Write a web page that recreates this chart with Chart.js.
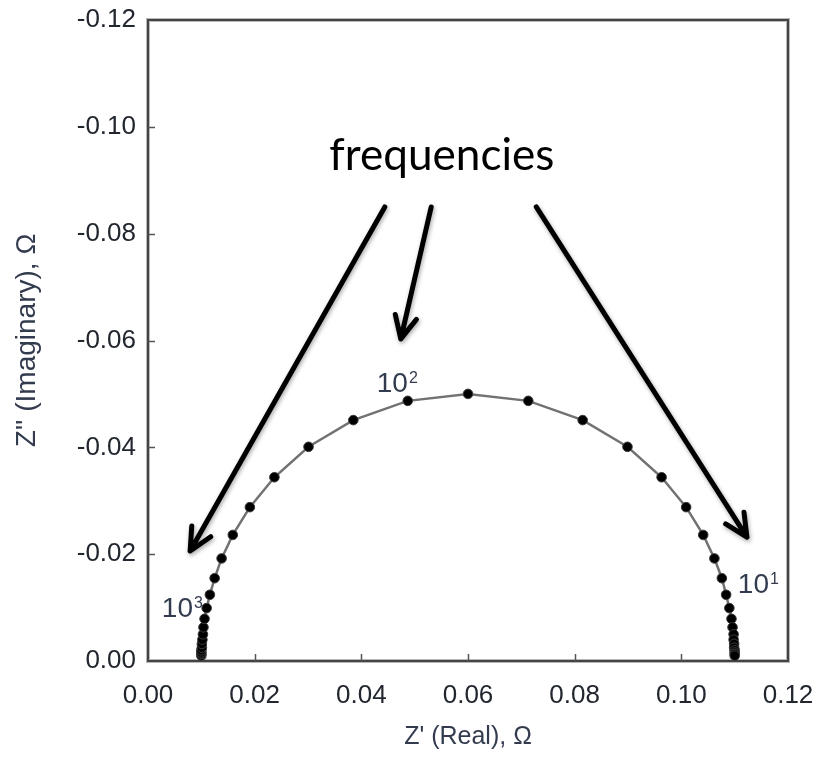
<!DOCTYPE html>
<html>
<head>
<meta charset="utf-8">
<script src="https://cdn.jsdelivr.net/npm/chart.js@4.4.1/dist/chart.umd.min.js"></script>
<style>
  html, body { margin: 0; padding: 0; background: #fff; }
</style>
</head>
<body>
<canvas id="nyquist" width="821" height="761"></canvas>
<script>
// Z' (real) and Z'' (imaginary) in ohms, high frequency (left) to low frequency (right)
const zReal = [
  0.0100, 0.0100, 0.0100, 0.0100, 0.0101, 0.0101, 0.0102, 0.0103, 0.0104, 0.0106,
  0.0110, 0.0116, 0.0125, 0.0138, 0.0159, 0.0191, 0.0237, 0.0301, 0.0385, 0.0487,
  0.0600,
  0.0713, 0.0815, 0.0899, 0.0963, 0.1009, 0.1041, 0.1062, 0.1076, 0.1084, 0.1090,
  0.1094, 0.1096, 0.1098, 0.1098, 0.1099, 0.1099, 0.1100, 0.1100, 0.1100, 0.1100
];
const zImag = [
  -0.0010, -0.0013, -0.0016, -0.0020, -0.0025, -0.0032, -0.0040, -0.0050, -0.0063, -0.0079,
  -0.0099, -0.0124, -0.0155, -0.0192, -0.0236, -0.0288, -0.0344, -0.0401, -0.0451, -0.0487,
  -0.0500,
  -0.0487, -0.0451, -0.0401, -0.0344, -0.0288, -0.0236, -0.0192, -0.0155, -0.0124, -0.0099,
  -0.0079, -0.0063, -0.0050, -0.0040, -0.0032, -0.0025, -0.0020, -0.0016, -0.0013, -0.0010
];

const xTicks = [0, 0.02, 0.04, 0.06, 0.08, 0.10, 0.12];
const yTicks = [-0.12, -0.10, -0.08, -0.06, -0.04, -0.02, 0];

// frequency decade labels (text anchor in data units)
const decadeLabels = [
  { exp: "3", x: 0.0026, y: -0.0082 },
  { exp: "2", x: 0.0429, y: -0.0504 },
  { exp: "1", x: 0.1106, y: -0.0127 }
];

// annotation arrows, [x0, y0, x1, y1] in data units
const arrows = [
  [0.0444, -0.0850, 0.0079, -0.0206],
  [0.0531, -0.0850, 0.0474, -0.0603],
  [0.0728, -0.0850, 0.1123, -0.0232]
];
const noteText = "frequencies";
const notePos = { x: 0.0551, y: -0.0919 };

const labelColor = "#22262f";
const titleColor = "#333b4e";

const noPad = s => { s.paddingTop = 0; s.paddingBottom = 0; s.paddingLeft = 0; s.paddingRight = 0; };

const decor = {
  id: "decor",
  beforeDatasetsDraw(chart) {
    const { ctx, chartArea: a, scales: { x, y } } = chart;
    ctx.save();
    ctx.strokeStyle = "#b8b8b8";
    ctx.lineWidth = 4;
    ctx.strokeRect(a.left, a.top, a.right - a.left, a.bottom - a.top);
    ctx.strokeStyle = "#444";
    ctx.lineWidth = 2;
    ctx.strokeRect(a.left, a.top, a.right - a.left, a.bottom - a.top);

    ctx.lineWidth = 1.5;
    ctx.strokeStyle = "#555";
    ctx.beginPath();
    xTicks.slice(1, -1).forEach(v => {
      const px = Math.round(x.getPixelForValue(v)) + 0.5;
      ctx.moveTo(px, a.bottom);
      ctx.lineTo(px, a.bottom - 7);
    });
    yTicks.slice(1, -1).forEach(v => {
      const py = Math.round(y.getPixelForValue(v)) + 0.5;
      ctx.moveTo(a.left, py);
      ctx.lineTo(a.left + 7, py);
    });
    ctx.stroke();
    ctx.restore();
  },
  afterDatasetsDraw(chart) {
    const { ctx, scales: { x, y } } = chart;
    ctx.save();

    // decade labels 10^n
    decadeLabels.forEach(l => {
      const px = x.getPixelForValue(l.x);
      const py = y.getPixelForValue(l.y);
      ctx.fillStyle = titleColor;
      ctx.textBaseline = "alphabetic";
      ctx.textAlign = "left";
      ctx.font = "28px 'Liberation Sans', Arial, sans-serif";
      ctx.fillText("10", px, py);
      const w = ctx.measureText("10").width;
      ctx.font = "16px 'Liberation Sans', Arial, sans-serif";
      ctx.fillText(l.exp, px + w + 1, py - 9);
    });

    // arrows
    ctx.strokeStyle = "#000";
    ctx.lineWidth = 5;
    ctx.lineCap = "round";
    ctx.lineJoin = "round";
    ctx.shadowColor = "rgba(0,0,0,0.35)";
    ctx.shadowBlur = 4;
    ctx.shadowOffsetX = 1;
    ctx.shadowOffsetY = 2;
    arrows.forEach(([x0, y0, x1, y1]) => {
      const ax = x.getPixelForValue(x0), ay = y.getPixelForValue(y0);
      const bx = x.getPixelForValue(x1), by = y.getPixelForValue(y1);
      const ang = Math.atan2(by - ay, bx - ax);
      const head = 25, spread = 0.45;
      ctx.beginPath();
      ctx.moveTo(ax, ay);
      ctx.lineTo(bx, by);
      ctx.moveTo(bx - head * Math.cos(ang - spread), by - head * Math.sin(ang - spread));
      ctx.lineTo(bx, by);
      ctx.lineTo(bx - head * Math.cos(ang + spread), by - head * Math.sin(ang + spread));
      ctx.stroke();
    });
    ctx.shadowColor = "transparent";

    // note text, fitted to its width in the picture
    ctx.fillStyle = "#000";
    ctx.textAlign = "center";
    ctx.textBaseline = "alphabetic";
    ctx.font = "40px Lato, 'Open Sans', sans-serif";
    const size = 40 * 225 / ctx.measureText(noteText).width;
    ctx.font = size.toFixed(1) + "px Lato, 'Open Sans', sans-serif";
    ctx.fillText(noteText, x.getPixelForValue(notePos.x), y.getPixelForValue(notePos.y));
    ctx.restore();
  }
};

new Chart(document.getElementById("nyquist"), {
  type: "scatter",
  data: {
    datasets: [{
      data: zReal.map((v, i) => ({ x: v, y: zImag[i] })),
      showLine: true,
      borderColor: "#727272",
      borderWidth: 2.5,
      pointRadius: 4.8,
      pointBackgroundColor: "#000",
      pointBorderColor: "#3a3a3a",
      pointBorderWidth: 1,
      clip: false
    }]
  },
  options: {
    responsive: false,
    animation: false,
    devicePixelRatio: 1,
    layout: { padding: { top: 20, right: 33, left: 0, bottom: 0 } },
    plugins: { legend: { display: false }, tooltip: { enabled: false } },
    scales: {
      x: {
        type: "linear",
        min: 0,
        max: 0.12,
        afterBuildTicks: s => { s.ticks = xTicks.map(v => ({ value: v })); },
        afterFit: s => { s.height = 100; noPad(s); },
        grid: { display: false, drawTicks: false },
        border: { display: false },
        ticks: {
          padding: 19,
          color: labelColor,
          font: { family: "'Liberation Sans', Arial, sans-serif", size: 26 },
          callback: v => v.toFixed(2)
        },
        title: {
          display: true,
          text: "Z' (Real), \u03A9",
          color: titleColor,
          font: { family: "'Liberation Sans', Arial, sans-serif", size: 25 },
          padding: { top: 0, bottom: 9 }
        }
      },
      y: {
        type: "linear",
        min: -0.12,
        max: 0,
        reverse: true,
        afterBuildTicks: s => { s.ticks = yTicks.map(v => ({ value: v })); },
        afterFit: s => { s.width = 148; noPad(s); },
        grid: { display: false, drawTicks: false },
        border: { display: false },
        ticks: {
          padding: 12,
          color: labelColor,
          font: { family: "'Liberation Sans', Arial, sans-serif", size: 26 },
          callback: v => v.toFixed(2)
        },
        title: {
          display: true,
          text: "Z'' (Imaginary), \u03A9",
          color: titleColor,
          font: { family: "'Liberation Sans', Arial, sans-serif", size: 28 },
          padding: { top: 10, bottom: 0 }
        }
      }
    }
  },
  plugins: [decor]
});
</script>
</body>
</html>
